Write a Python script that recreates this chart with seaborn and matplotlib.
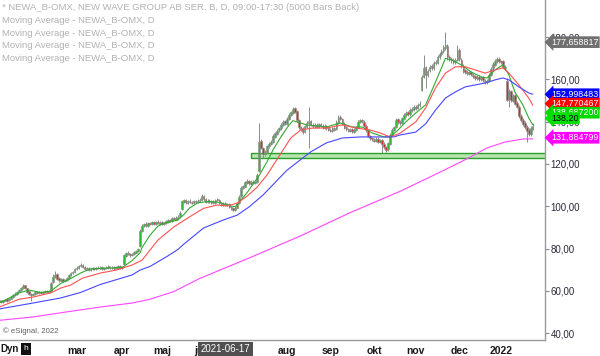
import matplotlib
matplotlib.use("Agg")
import matplotlib.pyplot as plt
import matplotlib.ticker as mticker
from matplotlib.patches import Rectangle
import numpy as np
import pandas as pd
import seaborn as sns

# daily bars NEWA B, first bar 2021-01-04 (Stockholm trading days)
opens = [
    55.4, 55.1, 54.7, 55.3, 55.9, 55.4, 56.2, 57.1, 57.9, 58.5,
    59.6, 60.4, 61.4, 62.5, 61.1, 59.7, 58.6, 57.8, 58.5, 59.3,
    58.9, 59.4, 59.1, 59.7, 59.3, 60.0, 60.1, 64.1, 66.4, 67.8,
    65.9, 64.8, 65.6, 64.5, 65.1, 66.2, 67.3, 68.5, 68.8, 70.4,
    70.9, 71.6, 72.4, 71.2, 70.1, 70.7, 69.8, 70.3, 70.9, 70.2,
    71.0, 70.5, 71.3, 70.4, 70.8, 71.5, 70.6, 71.1, 70.5, 71.4,
    70.7, 71.6, 70.8, 72.5, 76.6, 78.0, 77.3, 76.7, 77.5, 78.1,
    78.8, 81.2, 88.2, 90.6, 91.8, 90.7, 92.1, 91.4, 92.5, 91.7,
    92.7, 91.8, 92.4, 91.5, 92.0, 92.7, 93.6, 92.8, 94.3, 93.7,
    94.5, 95.3, 98.5, 102.2, 103.0, 101.7, 102.6, 102.1, 101.5, 102.4,
    101.8, 102.5, 103.0, 104.9, 103.3, 102.0, 102.7, 101.7, 102.4, 101.6,
    103.1, 103.0, 101.6, 100.7, 101.3, 100.5, 101.2, 99.8, 99.1, 98.1,
    99.3, 101.4, 104.8, 108.5, 109.3, 111.2, 112.1, 110.7, 111.7, 110.8,
    111.5, 116.5, 130.8, 127.6, 124.5, 125.7, 128.3, 129.5, 130.6, 133.0,
    134.3, 135.9, 136.8, 138.4, 140.3, 139.0, 141.3, 143.4, 144.2, 146.4,
    144.9, 141.0, 137.5, 136.8, 135.0, 137.6, 139.5, 140.4, 138.5, 137.8,
    138.5, 137.5, 138.9, 138.2, 137.2, 138.0, 136.9, 136.2, 135.5, 137.0,
    136.4, 139.6, 142.3, 141.4, 139.1, 137.3, 136.5, 135.6, 136.4, 135.3,
    136.0, 137.4, 139.9, 140.8, 140.1, 138.2, 136.0, 133.2, 132.3, 131.5,
    130.9, 131.9, 130.5, 131.3, 129.5, 128.0, 126.9, 129.5, 133.9, 136.2,
    137.3, 141.1, 139.9, 139.3, 141.5, 143.1, 144.4, 143.5, 145.5, 146.0,
    147.1, 146.4, 147.9, 155.0, 161.3, 165.8, 162.0, 164.3, 166.2, 165.3,
    167.9, 168.0, 170.7, 172.2, 173.3, 175.0, 176.0, 170.6, 169.8, 169.1,
    168.2, 169.4, 174.0, 169.3, 166.4, 164.3, 163.7, 162.8, 163.5, 162.3,
    161.6, 160.5, 161.3, 160.0, 161.0, 159.5, 158.6, 159.5, 162.1, 165.3,
    167.0, 168.9, 169.8, 168.7, 168.6, 166.0, 159.5, 150.8, 154.4, 150.0,
    152.5, 148.8, 147.0, 142.6, 140.9, 139.3, 137.4, 135.9, 134.0, 136.7,
]
highs = [
    55.9, 55.6, 55.8, 56.3, 56.4, 56.7, 57.5, 58.3, 59.2, 59.9,
    61.0, 61.9, 63.1, 62.9, 61.5, 60.1, 59.0, 59.1, 59.7, 59.8,
    59.8, 59.9, 60.1, 60.2, 60.4, 60.5, 64.3, 67.8, 69.5, 68.2,
    66.4, 65.9, 66.0, 65.7, 66.6, 67.9, 68.8, 69.4, 70.7, 71.6,
    72.4, 73.1, 72.8, 71.6, 71.1, 71.2, 70.9, 71.3, 71.4, 71.4,
    71.5, 71.7, 71.8, 71.4, 71.9, 72.0, 71.5, 71.6, 71.8, 71.9,
    72.0, 72.1, 71.7, 77.4, 78.5, 78.6, 77.8, 78.1, 78.8, 79.5,
    80.4, 89.2, 91.5, 92.3, 92.4, 92.6, 92.7, 93.0, 93.0, 93.2,
    93.3, 92.9, 93.0, 92.7, 93.4, 94.1, 94.1, 94.8, 94.9, 95.2,
    95.7, 97.6, 103.1, 103.6, 103.5, 103.1, 103.2, 102.7, 102.9, 103.0,
    103.2, 103.8, 106.0, 105.4, 103.8, 103.2, 103.2, 102.9, 102.9, 103.6,
    103.7, 103.4, 102.1, 101.8, 101.8, 101.7, 101.6, 100.3, 99.6, 99.9,
    101.9, 105.2, 109.4, 110.2, 112.1, 112.8, 112.6, 112.3, 112.3, 112.0,
    115.5, 139.5, 132.0, 128.2, 126.6, 129.1, 130.4, 131.2, 134.0, 135.3,
    136.6, 137.7, 139.4, 141.0, 141.0, 142.3, 144.1, 145.3, 147.2, 147.0,
    145.4, 141.5, 138.2, 137.4, 138.5, 140.2, 147.0, 141.0, 139.3, 139.2,
    139.2, 139.6, 139.6, 138.9, 138.7, 138.6, 137.5, 136.9, 137.6, 137.7,
    140.6, 143.0, 143.0, 141.9, 139.7, 138.0, 137.2, 137.0, 137.0, 136.8,
    138.2, 140.6, 141.4, 141.5, 140.8, 138.8, 136.6, 133.9, 133.0, 132.2,
    132.6, 132.6, 132.0, 132.0, 130.2, 128.7, 130.4, 134.5, 136.9, 138.2,
    141.7, 141.8, 140.6, 142.4, 143.9, 145.1, 145.2, 146.3, 147.0, 147.9,
    147.9, 148.7, 149.6, 162.0, 171.6, 166.6, 165.1, 166.9, 167.1, 168.7,
    169.2, 171.6, 173.1, 174.4, 176.3, 182.5, 176.6, 171.5, 170.7, 170.0,
    170.1, 176.5, 174.8, 170.0, 167.1, 165.1, 164.5, 164.2, 164.2, 163.0,
    162.3, 162.0, 162.0, 161.7, 161.7, 160.2, 160.2, 163.2, 166.0, 168.1,
    169.8, 170.6, 170.7, 169.4, 169.1, 166.9, 160.5, 155.5, 155.2, 153.2,
    153.2, 149.6, 147.7, 143.5, 141.8, 140.2, 138.3, 136.8, 137.8, 139.6,
]
lows = [
    54.5, 54.1, 54.4, 55.0, 54.8, 55.1, 55.9, 56.8, 57.5, 58.2,
    59.2, 60.0, 61.0, 60.8, 59.1, 57.9, 55.0, 57.3, 58.1, 58.3,
    58.5, 58.6, 58.7, 59.0, 58.9, 59.2, 59.8, 63.7, 65.9, 65.3,
    64.3, 64.4, 64.1, 64.1, 64.8, 65.8, 66.9, 68.0, 68.4, 69.9,
    70.5, 71.2, 70.6, 69.7, 69.6, 69.4, 69.4, 69.9, 69.8, 69.8,
    70.1, 70.1, 70.0, 70.0, 70.4, 70.2, 70.2, 70.1, 70.1, 70.3,
    70.3, 70.4, 70.4, 72.1, 76.1, 76.7, 76.2, 76.3, 77.0, 77.7,
    78.4, 80.8, 87.6, 90.0, 90.3, 90.2, 91.0, 91.0, 91.3, 91.2,
    91.4, 91.3, 91.1, 91.0, 91.6, 92.3, 92.4, 92.4, 93.3, 93.3,
    94.1, 94.9, 98.0, 101.7, 101.2, 101.2, 101.5, 101.0, 101.0, 101.4,
    101.3, 102.0, 102.6, 102.7, 101.6, 101.5, 101.3, 101.2, 101.2, 101.2,
    102.3, 101.0, 100.3, 100.2, 100.1, 100.0, 99.1, 98.4, 97.6, 97.8,
    99.0, 101.0, 104.3, 108.0, 108.9, 110.7, 110.2, 110.2, 110.3, 110.3,
    111.0, 116.0, 126.9, 122.8, 123.6, 125.1, 127.6, 128.8, 130.0, 132.4,
    133.7, 135.2, 136.2, 137.8, 138.5, 138.4, 140.7, 142.7, 143.6, 144.1,
    140.1, 136.7, 135.8, 134.4, 134.5, 137.0, 127.5, 137.9, 137.2, 137.1,
    136.9, 136.9, 137.4, 136.6, 136.6, 136.1, 135.4, 134.9, 134.9, 135.5,
    135.9, 139.0, 140.6, 138.3, 136.5, 135.7, 135.0, 134.9, 134.7, 134.7,
    135.4, 136.8, 139.2, 139.5, 137.4, 135.2, 132.6, 131.3, 130.8, 130.2,
    130.2, 129.8, 129.8, 125.0, 127.1, 125.6, 126.2, 129.0, 133.3, 135.6,
    136.8, 139.0, 138.6, 138.7, 140.9, 142.4, 142.8, 142.9, 144.8, 145.3,
    145.7, 145.8, 147.2, 154.3, 160.5, 156.0, 161.2, 163.5, 164.5, 164.6,
    167.0, 167.3, 169.8, 171.3, 172.5, 174.1, 169.4, 168.6, 168.0, 167.2,
    167.4, 168.7, 168.6, 165.3, 163.2, 162.7, 162.0, 162.0, 161.5, 160.6,
    159.7, 159.7, 159.2, 159.2, 158.7, 157.8, 157.7, 158.9, 161.5, 164.6,
    166.2, 168.0, 168.0, 167.4, 165.2, 164.3, 149.6, 146.8, 149.2, 149.1,
    147.7, 146.3, 141.6, 139.9, 138.2, 136.6, 130.5, 133.1, 133.3, 135.9,
]
closes = [
    55.0, 54.6, 55.4, 55.8, 55.2, 56.3, 57.0, 57.8, 58.6, 59.4,
    60.5, 61.3, 62.4, 61.2, 59.6, 58.4, 57.9, 58.6, 59.2, 58.8,
    59.3, 59.0, 59.6, 59.4, 59.9, 59.6, 63.8, 66.5, 67.6, 65.8,
    64.9, 65.4, 64.6, 65.2, 66.1, 67.4, 68.3, 68.9, 70.2, 71.0,
    71.8, 72.3, 71.1, 70.2, 70.6, 69.9, 70.4, 70.8, 70.3, 70.9,
    70.6, 71.2, 70.5, 70.9, 71.4, 70.7, 71.0, 70.6, 71.3, 70.8,
    71.5, 70.9, 71.2, 76.8, 77.9, 77.2, 76.8, 77.6, 78.2, 78.9,
    79.8, 88.5, 90.8, 91.6, 90.9, 92.0, 91.5, 92.4, 91.8, 92.6,
    91.9, 92.3, 91.6, 92.1, 92.8, 93.5, 92.9, 94.2, 93.8, 94.6,
    95.1, 97.0, 102.4, 102.9, 101.8, 102.5, 102.0, 101.6, 102.3, 101.9,
    102.6, 103.1, 104.8, 103.2, 102.1, 102.6, 101.8, 102.3, 101.7, 103.0,
    102.9, 101.5, 100.8, 101.2, 100.6, 101.1, 99.6, 99.0, 98.2, 99.4,
    101.3, 104.6, 108.7, 109.5, 111.4, 112.0, 110.8, 111.6, 110.9, 111.3,
    114.8, 130.2, 127.5, 124.6, 125.8, 128.4, 129.6, 130.4, 133.2, 134.5,
    135.8, 136.9, 138.6, 140.1, 139.2, 141.5, 143.2, 144.4, 146.2, 144.8,
    140.8, 137.4, 136.6, 135.2, 137.8, 139.4, 140.2, 138.6, 137.9, 138.4,
    137.6, 138.8, 138.1, 137.3, 137.9, 136.8, 136.1, 135.6, 136.9, 136.2,
    139.8, 142.1, 141.3, 139.0, 137.2, 136.4, 135.7, 136.3, 135.4, 136.1,
    137.5, 139.8, 140.6, 140.2, 138.1, 135.9, 133.4, 132.1, 131.6, 131.0,
    131.8, 130.6, 131.2, 129.4, 127.9, 126.8, 129.7, 133.8, 136.1, 137.4,
    140.9, 139.8, 139.4, 141.6, 143.0, 144.2, 143.6, 145.4, 146.1, 147.0,
    146.5, 147.8, 148.6, 161.0, 165.6, 162.1, 164.2, 166.0, 165.4, 167.8,
    168.2, 170.6, 172.1, 173.4, 175.2, 176.3, 170.4, 169.6, 169.0, 168.3,
    169.2, 174.1, 169.5, 166.2, 164.1, 163.6, 162.9, 163.4, 162.4, 161.5,
    160.6, 161.2, 160.1, 160.9, 159.6, 158.7, 159.4, 162.3, 165.1, 167.2,
    168.8, 169.6, 168.9, 168.4, 166.1, 165.2, 150.5, 154.6, 150.1, 152.3,
    148.6, 147.2, 142.5, 140.8, 139.1, 137.6, 135.8, 134.1, 136.9, 138.2,
]

# moving averages (bar index, value)
green_bars = [0, 10, 15, 21, 26, 31, 36, 41, 46, 56, 62, 67, 71, 72, 76, 80, 83, 90, 93, 96,
              100, 106, 111, 116, 119, 121, 125, 128, 131, 135, 138, 142, 145, 148, 152, 155,
              165, 172, 178, 183, 188, 194, 197, 201, 205, 210, 215, 220, 225, 228, 233, 238,
              243, 246, 250, 254, 257, 260, 264, 267, 269]
green_ma = [54.2, 59.0, 60.3, 59.2, 59.8, 63.5, 65.8, 68.4, 70.4, 70.8, 71.0, 74.3, 78.0, 80.5,
            86.3, 90.6, 92.0, 93.4, 96.0, 99.2, 101.6, 102.3, 101.8, 100.3, 99.8, 102.0, 106.5,
            110.5, 114.5, 121.0, 126.6, 132.8, 137.0, 140.5, 139.4, 138.5, 137.5, 139.4, 137.5,
            137.5, 134.7, 132.8, 132.8, 136.0, 139.9, 144.1, 148.0, 158.8, 170.0, 169.2, 166.9,
            163.5, 161.2, 160.7, 164.5, 166.9, 162.1, 154.1, 148.0, 141.8, 138.6]
red_bars = [0, 10, 17, 26, 31, 36, 42, 51, 59, 67, 72, 80, 88, 96, 103, 110, 115, 120, 125, 130,
            135, 142, 147, 152, 158, 165, 173, 180, 187, 192, 197, 202, 210, 215, 220, 225, 230,
            235, 240, 245, 250, 254, 257, 262, 267, 269]
red_ma = [52.3, 56.0, 57.0, 59.0, 61.3, 62.7, 66.0, 68.4, 69.8, 72.2, 74.5, 84.0, 90.2, 95.0,
          99.0, 100.6, 100.1, 101.5, 104.8, 109.0, 114.8, 125.0, 132.3, 136.1, 137.0, 137.0,
          138.5, 137.0, 136.1, 134.7, 132.8, 134.5, 139.9, 146.5, 156.0, 163.0, 166.0, 166.0,
          164.5, 163.0, 164.5, 165.5, 163.0, 157.4, 151.2, 147.8]
blue_bars = [0, 17, 31, 41, 51, 61, 67, 71, 76, 85, 90, 93, 103, 113, 120, 126, 133, 145, 157,
             165, 173, 182, 190, 199, 202, 210, 215, 220, 225, 230, 235, 240, 245, 250, 254, 257,
             262, 267, 269]
blue_ma = [51.4, 54.2, 56.6, 59.2, 63.0, 65.8, 67.5, 69.8, 71.5, 76.5, 79.5, 82.0, 89.7, 93.5,
           95.8, 99.7, 105.3, 117.0, 125.7, 130.0, 132.3, 132.8, 132.8, 132.8, 133.7, 135.1,
           139.0, 145.5, 151.2, 154.1, 156.5, 157.4, 158.3, 159.8, 160.7, 159.8, 156.5, 153.6,
           153.0]
magenta_bars = [0, 17, 34, 51, 67, 76, 88, 101, 126, 152, 177, 202, 222, 237, 246, 255, 264, 269]
magenta_ma = [46.0, 47.6, 50.0, 52.3, 54.2, 56.0, 59.6, 65.8, 75.5, 86.0, 97.0, 107.0, 116.0,
              123.0, 127.6, 130.4, 131.8, 131.9]

# support zone
zone_start_bar = 127
zone_low, zone_high = 122.6, 125.1

# price tags on the right scale
tag_values = [177.658817, 152.998483, 147.770467, 138.6872, 138.20, 131.884799]
tag_texts = ["177,658817", "152,998483", "147,770467", "138,687200", "138,20", "131,884799"]
tag_faces = ["#707070", "#0000ff", "#ff0000", "#00d800", "#00e000", "#ff00ff"]
tag_inks = ["white", "white", "white", "white", "black", "white"]
tag_lift = [0, 0, 1.2, 8.5, 5.2, 0.8]

# jul is hidden under the crosshair date box in the original
month_labels = ["", "mar", "apr", "maj", "jun", "", "aug", "sep", "okt", "nov", "dec", "2022"]
holidays = ["2021-01-06", "2021-04-02", "2021-04-05", "2021-05-13", "2021-06-25",
            "2021-12-24", "2021-12-31", "2022-01-06"]
legend_lines = ["* NEWA_B-OMX, NEW WAVE GROUP AB SER. B, D, 09:00-17:30 (5000 Bars Back)",
                "Moving Average - NEWA_B-OMX, D", "Moving Average - NEWA_B-OMX, D",
                "Moving Average - NEWA_B-OMX, D", "Moving Average - NEWA_B-OMX, D"]


def main():
    sns.set_style("white")
    plt.rcParams["font.family"] = ["Liberation Sans", "DejaVu Sans"]

    n = len(closes)
    days = pd.bdate_range("2021-01-04", periods=n, freq="C", holidays=holidays)
    month_idx = [i for i in range(1, n) if days[i].month != days[i - 1].month]
    cross_idx = int(np.where(days == pd.Timestamp("2021-06-17"))[0][0])

    o = np.array(opens)
    c = np.array(closes)
    x = np.arange(n)
    up = c >= o

    fig = plt.figure(figsize=(6, 3.56), dpi=100)
    ax = fig.add_axes([0, 16 / 356, 545 / 600, 340 / 356])

    ax.add_patch(Rectangle((zone_start_bar, zone_low), 400, zone_high - zone_low,
                           facecolor="#b8e4b0", edgecolor="#2a9f2a", lw=1.0, zorder=1.5))

    ax.vlines(x, lows, highs, color="#8c8c8c", lw=0.7, zorder=2)
    body_low = np.minimum(o, c)
    body_h = np.maximum(np.abs(c - o), 0.3)
    ax.bar(x, body_h, bottom=body_low, width=0.8,
           color=np.where(up, "#33b833", "#d42a2a"), edgecolor="#8c8c8c", lw=0.45, zorder=3)

    ma = pd.concat([
        pd.DataFrame({"bar": green_bars, "value": green_ma, "line": "green"}),
        pd.DataFrame({"bar": red_bars, "value": red_ma, "line": "red"}),
        pd.DataFrame({"bar": blue_bars, "value": blue_ma, "line": "blue"}),
        pd.DataFrame({"bar": magenta_bars, "value": magenta_ma, "line": "magenta"}),
    ])
    sns.lineplot(data=ma, x="bar", y="value", hue="line", estimator=None, sort=False,
                 palette={"green": "#30aa30", "red": "#ff5050", "blue": "#4646ff",
                          "magenta": "#ff44ff"},
                 lw=0.8, legend=False, ax=ax, zorder=4)

    ax.set_xlim(0.35, 275.2)
    ax.set_ylim(36.7, 197.6)
    ax.set_xlabel("")
    ax.set_ylabel("")

    for side in ["top", "left"]:
        ax.spines[side].set_visible(False)
    for side in ["right", "bottom"]:
        ax.spines[side].set_color("#9a9a9a")
        ax.spines[side].set_linewidth(1.0)

    ax.yaxis.tick_right()
    ax.set_yticks(range(40, 181, 20))
    ax.yaxis.set_major_formatter(mticker.FuncFormatter(lambda v, p: f"{v:.2f}".replace(".", ",")))
    ax.tick_params(axis="y", direction="out", length=3, width=0.8, color="#8a8a8a",
                   labelsize=7, labelcolor="#2a2a3a", pad=1)

    ax.set_xticks(month_idx)
    ax.set_xticklabels(month_labels[:len(month_idx)], fontweight="bold")
    ax.tick_params(axis="x", direction="out", length=3, width=0.8, color="#8a8a8a",
                   labelsize=7.5, labelcolor="#1a1a1a", pad=1.2)

    for val, txt, face, ink, lift in zip(tag_values, tag_texts, tag_faces, tag_inks, tag_lift):
        ax.annotate(txt, xy=(1, val), xycoords=("axes fraction", "data"),
                    xytext=(4.2, lift), textcoords="offset points", fontsize=6.4, color=ink,
                    ha="left", va="center", annotation_clip=False, zorder=6,
                    bbox=dict(boxstyle="larrow,pad=0.15", fc=face, ec="none"))

    ax.text(cross_idx, -0.027, days[cross_idx].strftime("%Y-%m-%d"),
            transform=ax.get_xaxis_transform(), ha="center", va="center", fontsize=7,
            color="white", zorder=7, clip_on=False,
            bbox=dict(boxstyle="square,pad=0.25", fc="#505050", ec="none"))

    for k, line in enumerate(legend_lines):
        fig.text(2 / 600, 1 - (8 + 12.6 * k) / 356, line, fontsize=6.8, color="#b2b2b2",
                 ha="left", va="center")

    fig.text(3 / 600, 1 - 331 / 356, "\u00a9 eSignal, 2022", fontsize=5.6, color="#606060",
             ha="left", va="center")
    fig.text(0, 1 - 349 / 356, "Dyn", fontsize=7, fontweight="bold", color="#1a1a1a",
             ha="left", va="center")
    fig.text(26 / 600, 1 - 349 / 356, "h", fontsize=6, color="white", ha="center",
             va="center", bbox=dict(boxstyle="square,pad=0.3", fc="#111111", ec="none"))

    fig.savefig("out.png", dpi=100)


if __name__ == "__main__":
    main()
